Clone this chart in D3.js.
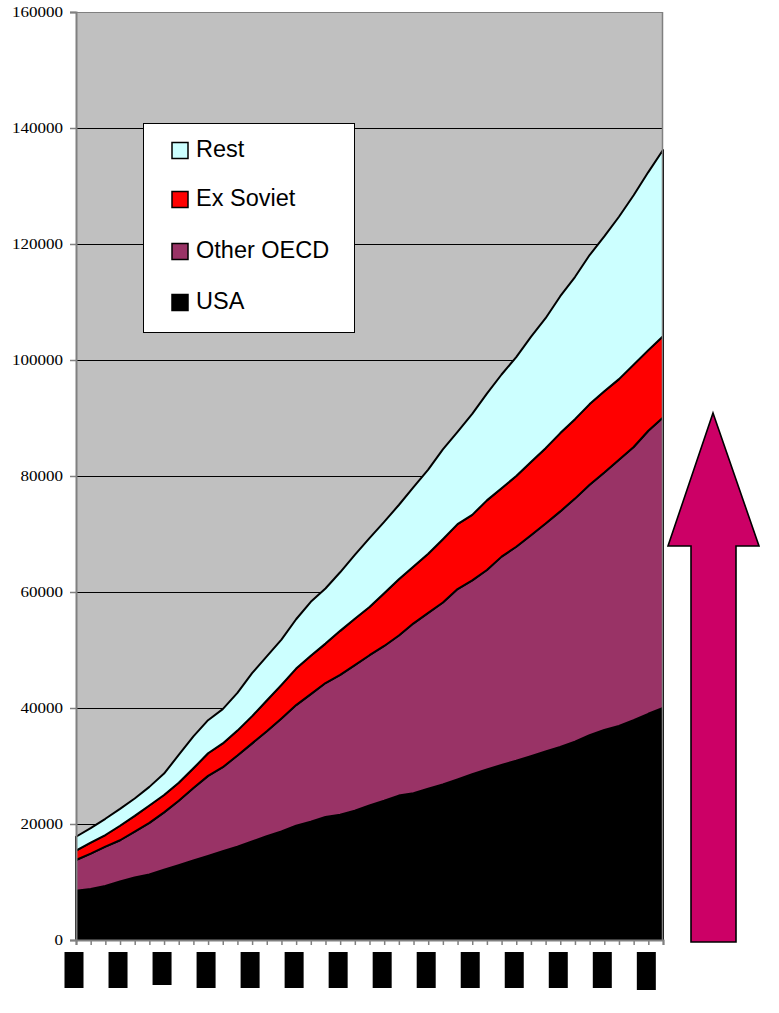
<!DOCTYPE html>
<html>
<head>
<meta charset="utf-8">
<script src="https://cdn.jsdelivr.net/npm/d3@7"></script>
<style>
  body { margin: 0; background: #fff; }
  svg { display: block; }
  .y-axis text { font-family: "Liberation Serif", "Times New Roman", serif; }
</style>
</head>
<body>
<div class="chart"></div>
<script>
// categories (tick labels are blacked out in the original)
var years = [1960, 1961, 1962, 1963, 1964, 1965, 1966, 1967, 1968, 1969,
  1970, 1971, 1972, 1973, 1974, 1975, 1976, 1977, 1978, 1979,
  1980, 1981, 1982, 1983, 1984, 1985, 1986, 1987, 1988, 1989,
  1990, 1991, 1992, 1993, 1994, 1995, 1996, 1997, 1998, 1999, 2000];

// series values
var usa = [8500, 8800, 9300, 10100, 10800, 11300, 12100, 12900, 13700, 14500,
  15300, 16100, 17000, 17900, 18700, 19700, 20400, 21200, 21600, 22300,
  23200, 24000, 24900, 25300, 26100, 26800, 27700, 28600, 29400, 30200,
  30900, 31700, 32500, 33300, 34200, 35300, 36200, 36900, 37900, 39000, 40000];
var otherOecd = [5300, 6100, 6800, 7100, 7900, 8900, 9900, 11100, 12500, 13800,
  14500, 15700, 16900, 18100, 19500, 20800, 22000, 23100, 24100, 25100,
  25900, 26700, 27600, 29300, 30300, 31400, 32800, 33400, 34400, 35900,
  36900, 38100, 39300, 40600, 41900, 43200, 44400, 45900, 47100, 48800, 50100];
var exSoviet = [1600, 1900, 2000, 2500, 2700, 3000, 3000, 3100, 3400, 3900,
  4100, 4300, 4700, 5300, 5800, 6300, 6600, 6800, 7600, 8000,
  8300, 9100, 9700, 9800, 10200, 10900, 11200, 11300, 12000, 11800,
  12200, 12600, 13000, 13500, 13700, 13900, 14000, 13900, 14200, 13900, 14000];
var rest = [2400, 2500, 2800, 2900, 3000, 3200, 3700, 4800, 5500, 5700,
  5900, 6500, 7400, 7600, 7800, 8500, 9300, 9500, 10100, 11000,
  11900, 12300, 12800, 13700, 14500, 15500, 15900, 17400, 18400, 19600,
  20500, 21600, 22400, 23600, 24500, 25700, 26700, 28000, 29200, 30700, 32100];

var yTicks = [0, 20000, 40000, 60000, 80000, 100000, 120000, 140000, 160000];

var seriesNames = ["USA", "Other OECD", "Ex Soviet", "Rest"];
var seriesColors = {"USA": "#000000", "Other OECD": "#993366", "Ex Soviet": "#FF0000", "Rest": "#CCFFFF"};

// sizes
var svgWidth = 779;
var svgHeight = 1013;
var plot = {left: 76, right: 663, top: 12, bottom: 940};

var svg = d3.select(".chart").append("svg")
  .attr("width", svgWidth).attr("height", svgHeight);

// table for the stack
var table = years.map(function(yr, i) {
  return {year: yr, "USA": usa[i], "Other OECD": otherOecd[i], "Ex Soviet": exSoviet[i], "Rest": rest[i]};
});
var stacked = d3.stack().keys(seriesNames)(table);

var x = d3.scalePoint().domain(years).range([plot.left, plot.right]);
var y = d3.scaleLinear().domain([0, 160000]).range([plot.bottom, plot.top]);

// plot background
svg.append("rect")
  .attr("x", plot.left).attr("y", plot.top)
  .attr("width", plot.right - plot.left).attr("height", plot.bottom - plot.top)
  .attr("fill", "#C0C0C0");

// gridlines
svg.append("g").selectAll("line")
  .data(yTicks.filter(function(d) { return d > 0 && d < 160000; }))
  .enter().append("line")
  .attr("x1", plot.left).attr("x2", plot.right)
  .attr("y1", function(d) { return y(d) + 0.5; })
  .attr("y2", function(d) { return y(d) + 0.5; })
  .attr("stroke", "#000").attr("stroke-width", 1);

// stacked areas
var area = d3.area()
  .x(function(d) { return x(d.data.year); })
  .y0(function(d) { return y(d[0]); })
  .y1(function(d) { return y(d[1]); });

svg.append("g").selectAll("path")
  .data(stacked)
  .enter().append("path")
  .attr("d", area)
  .attr("fill", function(d) { return seriesColors[d.key]; })
  .attr("stroke", "#000")
  .attr("stroke-width", 2)
  .attr("stroke-linejoin", "round");

// border top / right
svg.append("line").attr("x1", plot.left).attr("x2", plot.right)
  .attr("y1", plot.top + 0.5).attr("y2", plot.top + 0.5)
  .attr("stroke", "#808080").attr("stroke-width", 1);
svg.append("line").attr("x1", plot.right - 0.5).attr("x2", plot.right - 0.5)
  .attr("y1", plot.top).attr("y2", plot.bottom)
  .attr("stroke", "#808080").attr("stroke-width", 1.5);

// y axis
var yAxis = d3.axisLeft(y).tickValues(yTicks).tickSize(6).tickPadding(7).tickFormat(d3.format("d"));
var gy = svg.append("g").attr("class", "y-axis")
  .attr("transform", "translate(" + plot.left + ",0)").call(yAxis);
gy.attr("font-family", "Liberation Serif").attr("font-size", 14);
gy.select(".domain").attr("stroke", "#808080").attr("stroke-width", 2);
gy.selectAll(".tick line").attr("stroke", "#808080").attr("stroke-width", 1.5);
gy.selectAll(".tick text")
  .attr("fill", "#000")
  .attr("textLength", function(d) { return String(d).length * 8.5; })
  .attr("lengthAdjust", "spacingAndGlyphs");

// x axis
var xAxis = d3.axisBottom(x).tickSize(5).tickFormat("");
var gx = svg.append("g").attr("transform", "translate(0," + plot.bottom + ")").call(xAxis);
gx.select(".domain").attr("stroke", "#808080").attr("stroke-width", 2);
gx.selectAll(".tick line").attr("stroke", "#808080").attr("stroke-width", 1.5);

// blacked-out category labels, every third year
var labelYears = years.filter(function(d, i) { return i % 3 === 0; });
svg.append("g").selectAll("rect")
  .data(labelYears)
  .enter().append("rect")
  .attr("x", function(d) { return x(d) - 11.5; })
  .attr("y", 952)
  .attr("width", 19)
  .attr("height", function(d, i) { return i === 2 ? 33 : (i === labelYears.length - 1 ? 38 : 36); })
  .attr("fill", "#000");

// legend
var legend = svg.append("g");
legend.append("rect")
  .attr("x", 143.5).attr("y", 123.5).attr("width", 211).attr("height", 209)
  .attr("fill", "#fff").attr("stroke", "#000").attr("stroke-width", 1);

var legendItems = ["Rest", "Ex Soviet", "Other OECD", "USA"];
var legendBase = [157, 206, 258, 309];
legendItems.forEach(function(name, i) {
  legend.append("rect")
    .attr("x", 172).attr("y", legendBase[i] - 14.5)
    .attr("width", 16).attr("height", 16)
    .attr("fill", seriesColors[name]).attr("stroke", "#000").attr("stroke-width", 1.5);
  legend.append("text")
    .attr("x", 196).attr("y", legendBase[i])
    .style("font-family", "'Liberation Sans', Arial, sans-serif")
    .style("font-size", "23.5px")
    .attr("fill", "#000")
    .text(name);
});

// big arrow on the right
var ax = 713, tipY = 413, headY = 546, baseY = 942;
var arrowPts = [[ax, tipY], [ax + 46, headY], [ax + 23, headY], [ax + 23, baseY],
  [ax - 22, baseY], [ax - 22, headY], [ax - 45, headY]];
svg.append("polygon")
  .attr("points", arrowPts.map(function(p) { return p.join(","); }).join(" "))
  .attr("fill", "#CC0066").attr("stroke", "#000").attr("stroke-width", 1.6)
  .attr("stroke-linejoin", "miter");
</script>
</body>
</html>
